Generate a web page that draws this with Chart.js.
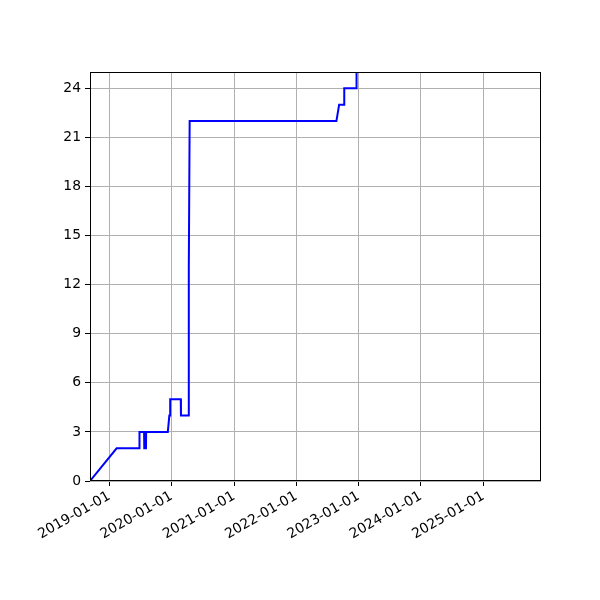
<!DOCTYPE html>
<html>
<head>
<meta charset="utf-8">
<script src="https://cdn.jsdelivr.net/npm/chart.js@4"></script>
<style>
    html, body { margin: 0; padding: 0; background: #fff; }
    #wrap { width: 600px; height: 600px; }
</style>
</head>
<body>
<div id="wrap"><canvas id="chart" width="600" height="600"></canvas></div>
<script>
"use strict";

// dates of the cumulative count
const dates = [
    "2018-09-10", "2019-02-13",
    "2019-06-26", "2019-06-27",
    "2019-07-24", "2019-07-25",
    "2019-08-04", "2019-08-05",
    "2019-12-10", "2019-12-19",
    "2019-12-23", "2019-12-24",
    "2020-02-24", "2020-02-25",
    "2020-04-09", "2020-04-10", "2020-04-12", "2020-04-16",
    "2022-08-24", "2022-09-09",
    "2022-10-08", "2022-10-09",
    "2022-12-18", "2022-12-20"
];
const counts = [
    0, 2,
    2, 3,
    3, 2,
    2, 3,
    3, 4,
    4, 5,
    5, 4,
    4, 7, 13, 22,
    22, 23,
    23, 24,
    24, 30
];

// tick labels
const xTickDates = ["2019-01-01", "2020-01-01", "2021-01-01", "2022-01-01", "2023-01-01", "2024-01-01", "2025-01-01"];
const yTicks = [0, 3, 6, 9, 12, 15, 18, 21, 24];

// axis range
const xMin = "2018-09-10";
const xMax = "2025-12-05";
const yMin = 0;
const yMax = 25;

// datum-sträng -> millisekunder (UTC)
function toMs(s) {
    const p = s.split("-").map(Number);
    return Date.UTC(p[0], p[1] - 1, p[2]);
}

function fmtDate(ms) {
    return new Date(ms).toISOString().slice(0, 10);
}

const points = dates.map((d, i) => ({ x: toMs(d), y: counts[i] }));

// ram runt hela ritytan (matplotlib-spines)
const frame = {
    id: "frame",
    afterDraw(chart) {
        const a = chart.chartArea;
        const c = chart.ctx;
        c.save();
        c.strokeStyle = "#000";
        c.lineWidth = 1;
        c.strokeRect(a.left + 0.5, a.top + 0.5, a.right - a.left - 1, a.bottom - a.top - 1);
        c.restore();
    }
};

const font = { family: "DejaVu Sans", size: 13.9 };

new Chart(document.getElementById("chart"), {
    type: "line",
    data: {
        datasets: [{
            data: points,
            borderColor: "#0000ff",
            borderWidth: 2,
            pointRadius: 0,
            tension: 0,
            fill: false
        }]
    },
    options: {
        responsive: false,
        animation: false,
        events: [],
        layout: { padding: { left: 0, right: 59, top: 72, bottom: 0 } },
        plugins: { legend: { display: false }, tooltip: { enabled: false } },
        scales: {
            x: {
                type: "linear",
                min: toMs(xMin),
                max: toMs(xMax),
                afterBuildTicks: axis => { axis.ticks = xTickDates.map(d => ({ value: toMs(d) })); },
                afterFit: axis => { axis.height = 119; },
                grid: { color: "#b0b0b0", lineWidth: 1, tickColor: "#000", tickLength: 5 },
                border: { display: false },
                ticks: {
                    font: font,
                    color: "#000",
                    minRotation: 30,
                    maxRotation: 30,
                    autoSkip: false,
                    padding: 2,
                    callback: v => fmtDate(v)
                }
            },
            y: {
                min: yMin,
                max: yMax,
                afterBuildTicks: axis => { axis.ticks = yTicks.map(v => ({ value: v })); },
                afterFit: axis => { axis.width = 90; },
                grid: { color: "#b0b0b0", lineWidth: 1, tickColor: "#000", tickLength: 5 },
                border: { display: false },
                ticks: { font: font, color: "#000", padding: 4 }
            }
        }
    },
    plugins: [frame]
});
</script>
</body>
</html>
